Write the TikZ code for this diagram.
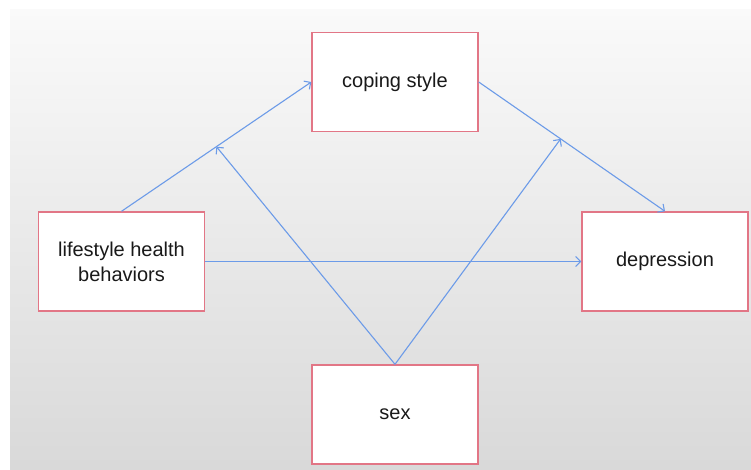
\documentclass[tikz,border=0pt]{standalone}
\usepackage{fontspec}
\setmainfont{Liberation Sans}
\usetikzlibrary{
  arrows.meta
  }
\definecolor{boxred}{RGB}{226,118,134}
\definecolor{linkblue}{RGB}{108,155,232}
\definecolor{textgray}{RGB}{25,25,25}

\begin{document}
\begin{tikzpicture}[x=1pt, y=-1pt]
  \tikzstyle{every node}=[font=\fontsize{20}{25}\selectfont, text=textgray]
  \tikzstyle{varbox}=[draw=boxred, line width=1.4pt, fill=white,
    minimum width=166pt, minimum height=99pt, align=center]
  \tikzstyle{link}=[draw=linkblue, line width=1.1pt,
    -{Straight Barb[length=5pt, width=10pt, line width=1.1pt]}]
  \useasboundingbox (0,0) rectangle (751,470);
  \shade[top color=black!2, bottom color=black!15] (10,10) rectangle (751,470);
  %
  \node[varbox] (coping) at (395,82) {coping style};
  \node[varbox] (lifestyle) at (121.5,261.5) {lifestyle health\\behaviors};
  \node[varbox] (depression) at (665,261.5) {depression};
  \node[varbox] (sex) at (395,414.5) {sex};
  %
  \draw[link] (lifestyle.north) -- (coping.west) coordinate[pos=0.5] (modA);
  \draw[link] (coping.east) -- (depression.north) coordinate[pos=0.44] (modB);
  \draw[link] (lifestyle.east) -- (depression.west);
  \draw[link] (sex.north) -- (modA);
  \draw[link] (sex.north) -- (modB);
  %
\end{tikzpicture}
\end{document}
